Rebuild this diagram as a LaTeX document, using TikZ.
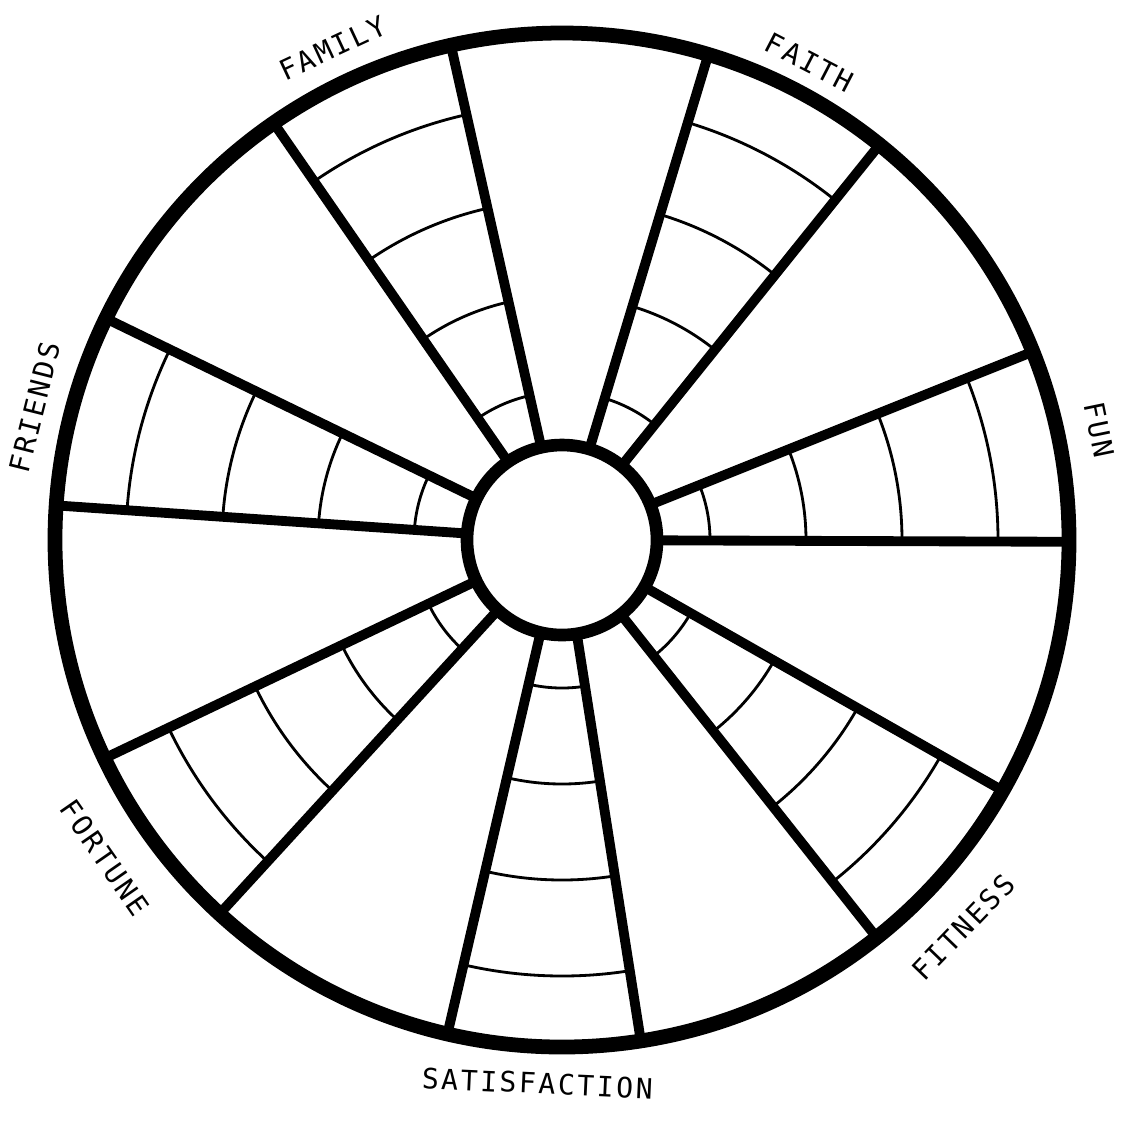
\documentclass[tikz,border=0pt]{standalone}
\usepackage{fontspec}
\newfontfamily\plotterfont[LetterSpace=9]{DejaVu Sans Mono}
\tikzset{
  rim/.style={line width=4.2pt},
  spoke/.style={line width=2.8pt},
  ring/.style={line width=0.8pt},
  wheellabel/.style={font=\plotterfont\fontsize{8}{9}\selectfont, inner sep=0pt}
}

\begin{document}
\begin{tikzpicture}
    \useasboundingbox (-5.62,-5.85) rectangle (5.65,5.40);

    % seven scored wedges
    \foreach \k in {0,...,6} {
      \pgfmathsetmacro{\lo}{10.8+\k*360/7-11}
      \pgfmathsetmacro{\hi}{10.8+\k*360/7+11}
      \draw[spoke] (\lo:0.95) -- (\lo:5.07);
      \draw[spoke] (\hi:0.95) -- (\hi:5.07);
      \foreach \r in {1.48,2.44,3.40,4.36}
        \draw[ring] (\lo:\r) arc[start angle=\lo, end angle=\hi, radius=\r];
    }

    \draw[rim] (0,0) circle (5.07);
    \draw[rim, line width=3.6pt, fill=white] (0,0) circle (0.95);

    % labels round the rim
    \foreach \name/\txt/\ang/\rad/\rot in {
        fun/FUN/11.6/5.48/-78.4,
        faith/FAITH/62.6/5.38/-27.4,
        family/FAMILY/115/5.43/25,
        friends/FRIENDS/165.9/5.44/75.9,
        fortune/FORTUNE/214.8/5.57/-55.2,
        satisfaction/SATISFACTION/-92.6/5.44/-2.6,
        fitness/FITNESS/-44/5.58/46}
      \node[wheellabel, rotate=\rot] (\name) at (\ang:\rad) {\txt};
\end{tikzpicture}
\end{document}
